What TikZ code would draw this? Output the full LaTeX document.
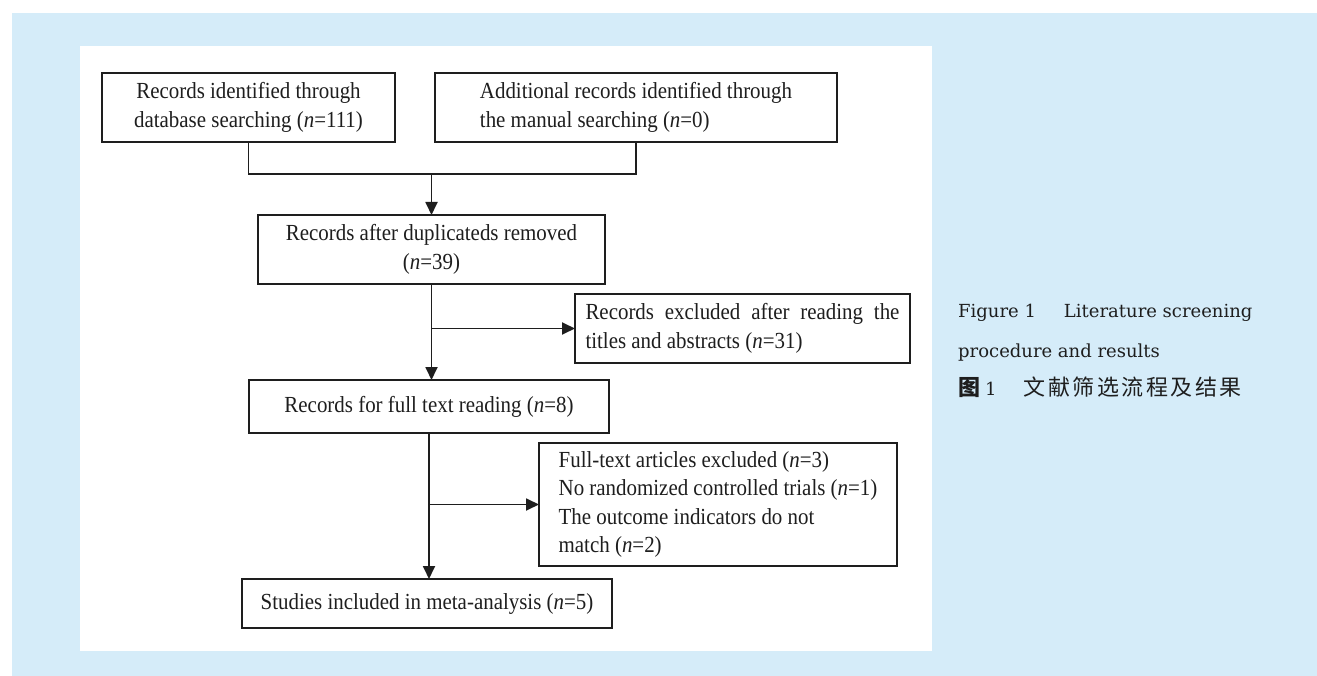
\documentclass[tikz,border=0pt]{standalone}
\usepackage{fontspec}
\usetikzlibrary{arrows.meta}
\newfontfamily\boxfont[FakeStretch=0.91]{Liberation Serif}
\newfontfamily\capfont{DejaVu Serif}
\newfontfamily\cjk{Noto Sans CJK SC}
\definecolor{bgblue}{RGB}{213,236,249}
\definecolor{ink}{RGB}{30,30,30}
\tikzset{
  flowbox/.style={draw=ink, line width=2pt, inner sep=0pt, outer sep=0pt,
    font=\boxfont\fontsize{23}{28.6}\selectfont, text=ink},
  conn/.style={draw=ink, line width=1.8pt},
  arr/.style={conn, -{Triangle[length=13pt,width=12pt]}},
  captext/.style={anchor=base west, inner sep=0pt, text=ink,
    font=\capfont\fontsize{18}{22}\selectfont}
}
\begin{document}
\begin{tikzpicture}[x=1pt,y=-1pt]
\useasboundingbox (0,0) rectangle (1317,676);
\fill[white] (0,0) rectangle (1317,676);
\fill[bgblue] (12,13) rectangle (1317,676);
\fill[white] (80,46) rectangle (932,651);

\node[flowbox, minimum width=293pt, minimum height=69pt, align=center] (b1) at (248.5,107.5)
  {Records identified through\\ database searching (\textit{n}=111)};
\node[flowbox, minimum width=402pt, minimum height=69pt, align=left] (b2) at (636,107.5)
  {Additional records identified through\\ the manual searching (\textit{n}=0)};
\node[flowbox, minimum width=347pt, minimum height=69pt, align=center] (b3) at (431.5,249.5)
  {Records after duplicateds removed\\ (\textit{n}=39)};
\node[flowbox, minimum width=335pt, minimum height=69pt, text width=314pt, align=justify] (b5) at (742.5,328.5)
  {Records excluded after reading the\linebreak titles and abstracts (\textit{n}=31)};
\node[flowbox, minimum width=360pt, minimum height=53pt, align=center] (b4) at (429,406.5)
  {Records for full text reading (\textit{n}=8)};
\node[flowbox, minimum width=358pt, minimum height=123pt, align=left] (b7) at (718,504.5)
  {Full-text articles excluded (\textit{n}=3)\\ No randomized controlled trials (\textit{n}=1)\\ The outcome indicators do not\\ match (\textit{n}=2)};
\node[flowbox, minimum width=370pt, minimum height=49pt, align=center] (b6) at (427,603.5)
  {Studies included in meta-analysis (\textit{n}=5)};

\coordinate (m) at (431.5,174);
\draw[conn] (b1.south) |- (m) -| (b2.south);
\draw[arr] (m) -- (b3.north);
\draw[arr] (b3.south) -- (b3.south |- b4.north);
\draw[arr] (b3.south |- b5.west) -- (b5.west);
\draw[arr] (b4.south) -- (b4.south |- b6.north);
\draw[arr] (b4.south |- b7.west) -- (b7.west);

\node[captext] (c1) at (958,318) {Figure 1\hspace{28pt}Literature screening};
\node[captext] (c2) at (958,357) {procedure and results};
\node[captext] (c3) at (958,395) {{\cjk\fontsize{22}{24}\selectfont\bfseries 图}\kern5pt 1\kern27pt{\cjk\fontsize{22}{24}\selectfont 文\kern2.5pt 献\kern2.5pt 筛\kern2.5pt 选\kern2.5pt 流\kern2.5pt 程\kern2.5pt 及\kern2.5pt 结\kern2.5pt 果}};
\end{tikzpicture}
\end{document}
